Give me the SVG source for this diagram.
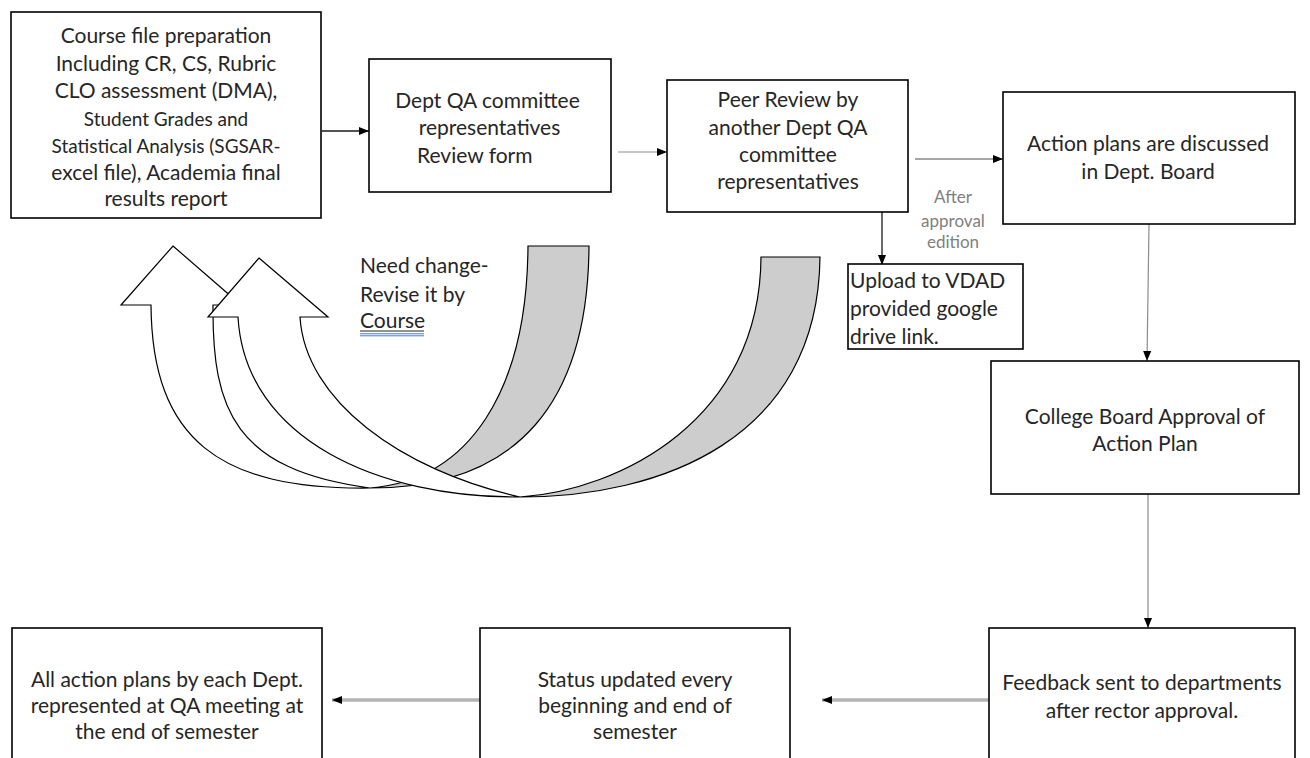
<svg xmlns="http://www.w3.org/2000/svg" width="1310" height="758" viewBox="0 0 1310 758">
<style>
  .box { fill: #ffffff; stroke: #000000; stroke-width: 1.6; }
  .t { font-family: Lato, "Liberation Sans", sans-serif; font-size: 21px; fill: #262626; text-anchor: middle; }
  .ts { font-size: 19px; }
  .start { text-anchor: start; }
  .note { font-family: Lato, "Liberation Sans", sans-serif; font-size: 17px; fill: #7f7f7f; text-anchor: middle; }
  .band-back { fill: #cdcdcd; stroke: #000000; stroke-width: 1.2; stroke-linejoin: miter; }
  .band-front { fill: #ffffff; stroke: #000000; stroke-width: 1.2; stroke-linejoin: miter; }
  .dark { stroke: #1a1a1a; stroke-width: 1.3; fill: none; }
  .grey1 { stroke: #8c8c8c; stroke-width: 1.2; fill: none; }
  .grey2 { stroke: #a6a6a6; stroke-width: 2; fill: none; }
  .grey3 { stroke: #b3b3b3; stroke-width: 3.5; fill: none; }
</style>
<defs>
  <marker id="ah" viewBox="0 0 10 8" refX="10" refY="4" markerWidth="10" markerHeight="8" markerUnits="userSpaceOnUse" orient="auto">
    <path d="M0,0 L10,4 L0,8 z" fill="#000000"/>
  </marker>
</defs>
<rect x="0" y="0" width="1310" height="758" fill="#ffffff"/>

<g id="curved-arrows">
  <path class="band-back" d="M 528,246 L 589,246 C 588,400 520,488 370,488 C 470,480 527,390 528,246 Z"/>
  <path class="band-front" d="M 173,246 L 241,305 L 213,305 C 212,410 235,470 370,488 C 220,490 152,440 151,305 L 121,305 Z"/>
  <path class="band-back" d="M 761,257 L 820,257 C 818,440 660,497 520,497 C 620,490 760,420 761,257 Z"/>
  <path class="band-front" d="M 259,258 L 328,317 L 300,317 C 305,400 400,470 520,497 C 380,498 245,440 238,317 L 208,317 Z"/>
</g>

<g id="connectors">
  <path class="dark" d="M 322,131 H 369" marker-end="url(#ah)"/>
  <path class="grey1" d="M 618,152 H 667" marker-end="url(#ah)"/>
  <path class="grey2" d="M 915,159 H 1003" marker-end="url(#ah)"/>
  <path class="dark" d="M 882,212 V 265" marker-end="url(#ah)"/>
  <path class="grey1" d="M 1149,224 L 1147,361" marker-end="url(#ah)"/>
  <path class="grey1" d="M 1148,494 V 628" marker-end="url(#ah)"/>
  <path class="grey3" d="M 989,700 H 822" marker-end="url(#ah)"/>
  <path class="grey3" d="M 480,700 H 332" marker-end="url(#ah)"/>
</g>

<g id="node-course-file">
  <rect class="box" x="11" y="12" width="310" height="206"/>
  <text class="t" x="166" y="43">Course file preparation</text>
  <text class="t" x="166" y="71">Including CR, CS, Rubric</text>
  <text class="t" x="166" y="98">CLO assessment (DMA),</text>
  <text class="t ts" x="166" y="126">Student Grades and</text>
  <text class="t ts" x="166" y="153">Statistical Analysis (SGSAR-</text>
  <text class="t" x="166" y="180">excel file), Academia final</text>
  <text class="t" x="166" y="206">results report</text>
</g>

<g id="node-dept-qa">
  <rect class="box" x="369" y="59" width="242" height="133"/>
  <text class="t" x="487.5" y="108">Dept QA committee</text>
  <text class="t" x="489.5" y="135">representatives</text>
  <text class="t start" x="417" y="163">Review form</text>
</g>

<g id="node-peer-review">
  <rect class="box" x="667" y="80" width="241" height="132"/>
  <text class="t" x="788" y="107">Peer Review by</text>
  <text class="t" x="788" y="135">another Dept QA</text>
  <text class="t" x="788" y="162">committee</text>
  <text class="t" x="788" y="189">representatives</text>
</g>

<g id="node-upload">
  <rect class="box" x="848" y="264" width="175" height="85"/>
  <text class="t start" x="850" y="288">Upload to VDAD</text>
  <text class="t start" x="850" y="316">provided google</text>
  <text class="t start" x="850" y="344">drive link.</text>
</g>

<g id="label-after-approval">
  <text class="note" x="953" y="203">After</text>
  <text class="note" x="953" y="227">approval</text>
  <text class="note" x="953" y="248">edition</text>
</g>

<g id="label-need-change">
  <text class="t start" x="360" y="273">Need change-</text>
  <text class="t start" x="360" y="302">Revise it by</text>
  <text class="t start" x="360" y="328">Course</text>
  <line x1="360" y1="331" x2="424" y2="331" stroke="#262626" stroke-width="1"/>
  <line x1="360" y1="333.8" x2="424" y2="333.8" stroke="#4a7bd0" stroke-width="1"/>
  <line x1="360" y1="335.8" x2="424" y2="335.8" stroke="#4a7bd0" stroke-width="1"/>
</g>

<g id="node-dept-board">
  <rect class="box" x="1003" y="92" width="292" height="132"/>
  <text class="t" x="1148" y="151">Action plans are discussed</text>
  <text class="t" x="1148" y="179">in Dept. Board</text>
</g>

<g id="node-college-board">
  <rect class="box" x="991" y="361" width="308" height="133"/>
  <text class="t" x="1145" y="424">College Board Approval of</text>
  <text class="t" x="1145" y="451">Action Plan</text>
</g>

<g id="node-feedback">
  <rect class="box" x="989" y="628" width="306" height="150"/>
  <text class="t" x="1142" y="690">Feedback sent to departments</text>
  <text class="t" x="1142" y="718">after rector approval.</text>
</g>

<g id="node-status">
  <rect class="box" x="480" y="628" width="310" height="150"/>
  <text class="t" x="635" y="687">Status updated every</text>
  <text class="t" x="635" y="713">beginning and end of</text>
  <text class="t" x="635" y="739">semester</text>
</g>

<g id="node-all-plans">
  <rect class="box" x="12" y="628" width="310" height="150"/>
  <text class="t" x="167" y="687">All action plans by each Dept.</text>
  <text class="t" x="167" y="713">represented at QA meeting at</text>
  <text class="t" x="167" y="739">the end of semester</text>
</g>
</svg>
